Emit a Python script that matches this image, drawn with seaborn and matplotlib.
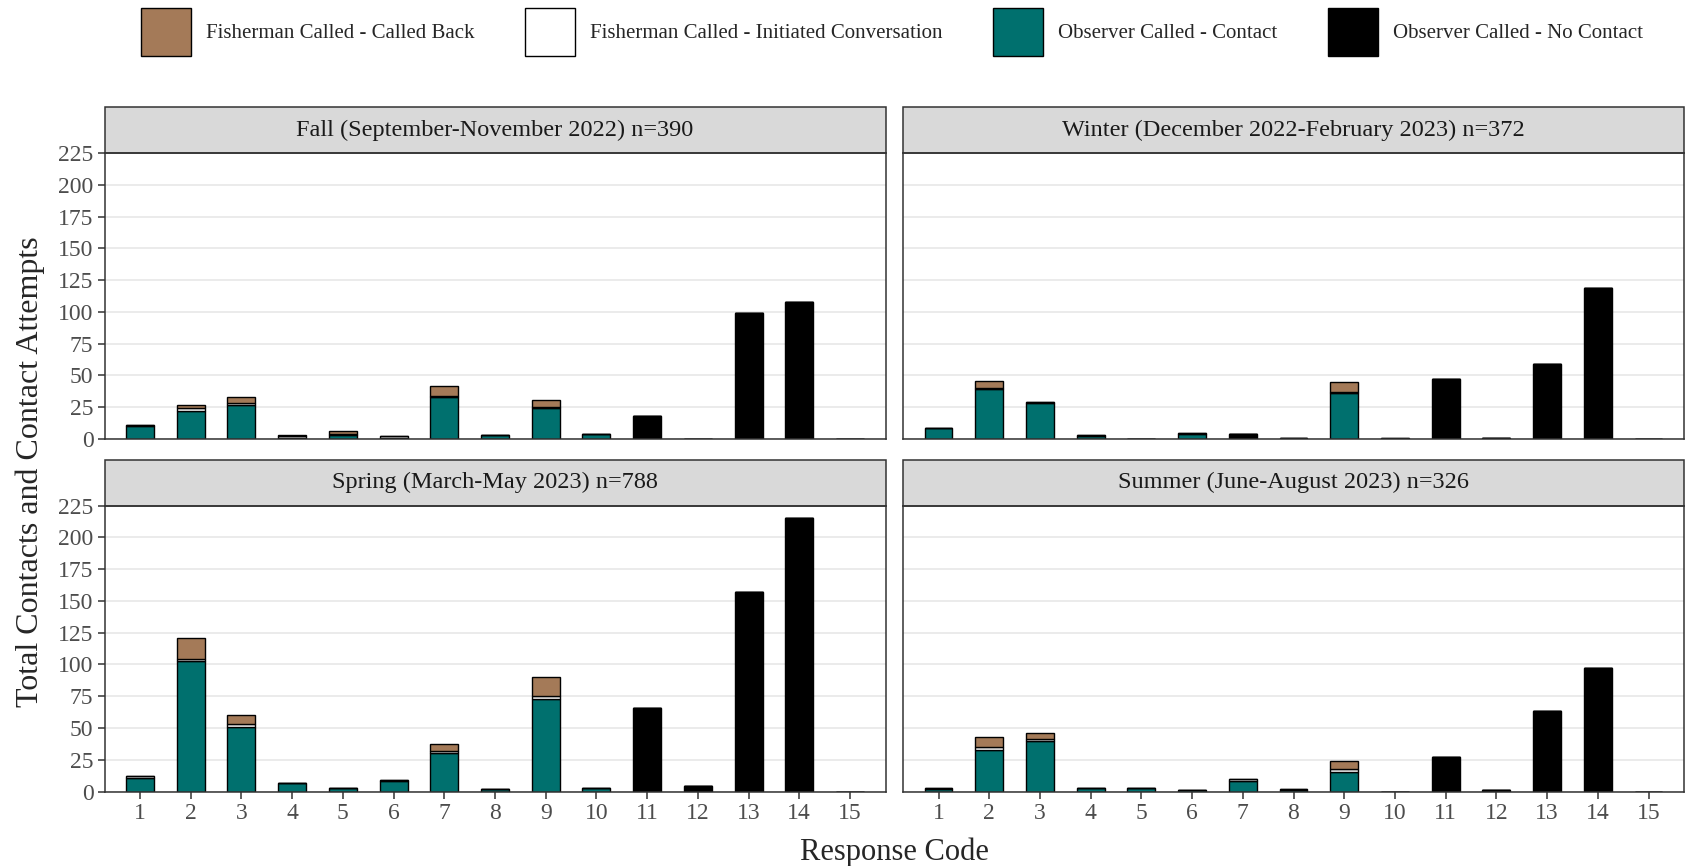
import pandas as pd
import matplotlib.pyplot as plt
import seaborn as sns
from matplotlib.patches import Patch, Rectangle

# Response codes on the x axis
codes = list(range(1, 16))

# Fall (September-November 2022)
fall_back = [0, 3, 5, 1, 2, 0, 8, 0, 6, 0, 0, 0, 0, 0, 0]
fall_init = [1, 2, 1, 1, 1, 1, 1, 0, 1, 0, 0, 0, 0, 0, 0]
fall_contact = [10, 22, 27, 1, 3, 1, 33, 3, 24, 4, 0, 0, 0, 0, 0]
fall_nocontact = [0, 0, 0, 0, 0, 0, 0, 0, 0, 0, 18, 0, 99, 108, 0]

# Winter (December 2022-February 2023)
winter_back = [0, 6, 0, 0, 0, 0, 0, 0, 8, 0, 0, 0, 0, 0, 0]
winter_init = [0, 1, 1, 1, 0, 1, 0, 0, 1, 1, 0, 0, 0, 0, 0]
winter_contact = [9, 39, 28, 2, 0, 4, 0, 1, 36, 0, 0, 0, 0, 0, 0]
winter_nocontact = [0, 0, 0, 0, 0, 0, 4, 0, 0, 0, 47, 1, 59, 119, 0]

# Spring (March-May 2023)
spring_back = [0, 17, 7, 0, 0, 0, 5, 0, 15, 0, 0, 0, 0, 0, 0]
spring_init = [1, 1, 2, 0, 0, 1, 2, 0, 2, 0, 0, 0, 0, 0, 0]
spring_contact = [11, 103, 51, 7, 3, 8, 30, 2, 73, 3, 0, 0, 0, 0, 0]
spring_nocontact = [0, 0, 0, 0, 0, 0, 0, 0, 0, 0, 66, 4, 157, 215, 0]

# Summer (June-August 2023)
summer_back = [0, 8, 5, 0, 0, 0, 0, 0, 6, 0, 0, 0, 0, 0, 0]
summer_init = [1, 2, 1, 0, 0, 0, 2, 1, 3, 0, 0, 0, 0, 0, 0]
summer_contact = [2, 33, 40, 3, 3, 1, 8, 1, 15, 0, 0, 0, 0, 0, 0]
summer_nocontact = [0, 0, 0, 0, 0, 0, 0, 0, 0, 0, 27, 1, 63, 97, 0]

season_titles = [
    "Fall (September-November 2022) n=390",
    "Winter (December 2022-February 2023) n=372",
    "Spring (March-May 2023) n=788",
    "Summer (June-August 2023) n=326",
]

types = [
    "Fisherman Called - Called Back",
    "Fisherman Called - Initiated Conversation",
    "Observer Called - Contact",
    "Observer Called - No Contact",
]
colors = ["#A47A58", "#FFFFFF", "#00706E", "#000000"]
palette = dict(zip(types, colors))

season_data = [
    [fall_back, fall_init, fall_contact, fall_nocontact],
    [winter_back, winter_init, winter_contact, winter_nocontact],
    [spring_back, spring_init, spring_contact, spring_nocontact],
    [summer_back, summer_init, summer_contact, summer_nocontact],
]

# Long format
rows = []
for title, series in zip(season_titles, season_data):
    for t, vals in zip(types, series):
        for c, v in zip(codes, vals):
            rows.append({"season": title, "type": t, "code": c, "count": v})
df = pd.DataFrame(rows)

sns.set_theme(style="ticks")
plt.rcParams["font.family"] = ["Liberation Serif", "DejaVu Serif"]

fig = plt.figure(figsize=(16.86, 8.66), dpi=100)

W, H = 1686, 866
panel_w = 781
panel_h = 286
strip_h = 46
lefts = [104.5, 903]
tops = [153, 505.5]

for i, title in enumerate(season_titles):
    r, c = divmod(i, 2)
    x0 = lefts[c] / W
    y0 = 1 - (tops[r] + panel_h) / H
    ax = fig.add_axes([x0, y0, panel_w / W, panel_h / H])
    sub = df[df["season"] == title]
    ax.yaxis.grid(True, color="#EBEBEB", linewidth=1.4)
    ax.set_axisbelow(True)
    sns.histplot(data=sub, x="code", weights="count", hue="type", hue_order=types,
                 multiple="stack", discrete=True, shrink=0.55, palette=palette,
                 edgecolor="black", linewidth=1.0, alpha=1, legend=False, ax=ax)
    ax.set_xlim(0.3, 15.7)
    ax.set_ylim(0, 225)
    ax.set_xticks(codes)
    ax.set_yticks(range(0, 226, 25))
    ax.set_xlabel("")
    ax.set_ylabel("")
    for s in ax.spines.values():
        s.set_color("#333333")
        s.set_linewidth(1.1)
    ax.tick_params(colors="#333333", labelcolor="#4D4D4D", labelsize=17,
                   length=5, width=1.1, pad=3)
    if r == 0:
        ax.tick_params(axis="x", bottom=False, labelbottom=False)
    if c == 1:
        ax.tick_params(axis="y", left=False, labelleft=False)
    # facet strip
    sh = strip_h / panel_h
    ax.add_patch(Rectangle((0, 1), 1, sh, transform=ax.transAxes, clip_on=False,
                           facecolor="#D9D9D9", edgecolor="#333333", linewidth=1.1))
    ax.text(0.5, 1 + sh / 2, title, transform=ax.transAxes, ha="center", va="center",
            fontsize=17.5, color="#1A1A1A")

fig.text(894 / W, 1 - 852 / H, "Response Code", ha="center", va="center", fontsize=22)
fig.text(30 / W, 1 - 472 / H, "Total Contacts and Contact Attempts", ha="center",
         va="center", rotation=90, fontsize=23)

handles = [Patch(facecolor=col, edgecolor="black", linewidth=1.0) for col in colors]
fig.legend(handles, types, loc="center", bbox_to_anchor=(892 / W, 1 - 32 / H), ncol=4,
           frameon=False, fontsize=15, handlelength=2.4, handleheight=3.1,
           handletextpad=0.75, columnspacing=2.4)

fig.savefig("out.png", dpi=100)
plt.close(fig)
